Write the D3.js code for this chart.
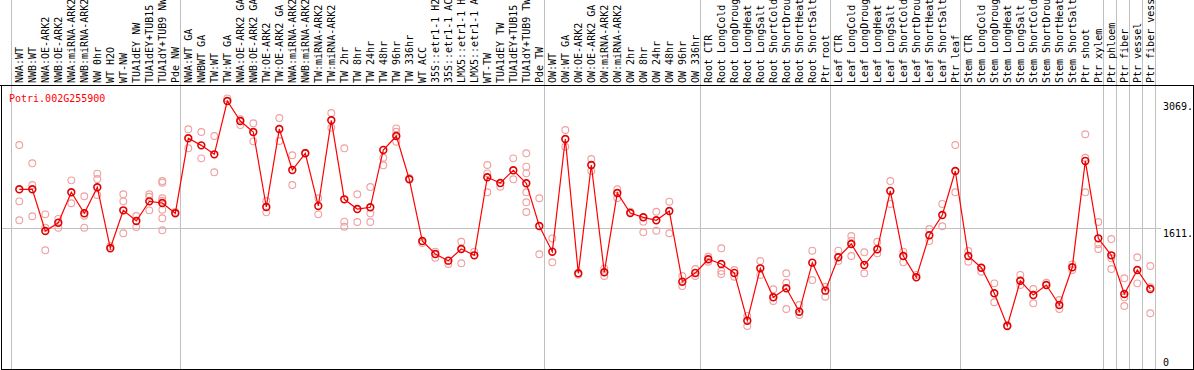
<!DOCTYPE html>
<html>
<head>
<meta charset="utf-8">
<script src="https://cdn.jsdelivr.net/npm/d3@7"></script>
<style>
body { margin: 0; background: #fff; }
svg { display: block; }
text { font-family: "DejaVu Sans Mono", monospace; font-size: 10px; }
</style>
</head>
<body>
<div id="chart"></div>
<script>
const geneId = "Potri.002G255900";

const samples = [
    "NWA:WT", "NWB:WT", "NWA:OE-ARK2", "NWB:OE-ARK2", "NWA:miRNA-ARK2", "NWB:miRNA-ARK2", "NW 0hr", "WT H2O", "WT-NW",
    "TUA1dEY NW", "TUA1dEY+TUB15 NW", "TUA1dY+TUB9 NW", "Pde NW",
    "NWA:WT GA", "NWBWT GA", "TW:WT", "TW:WT GA", "NWA:OE-ARK2 GA", "NWB:OE-ARK2 GA", "TW:OE-ARK2", "TW:OE-ARK2 GA",
    "NWA:miRNA-ARK2 GA", "NWB:miRNA-ARK2 GA", "TW:miRNA-ARK2", "TW:miRNA-ARK2 GA", "TW 2hr", "TW 8hr", "TW 24hr", "TW 48hr",
    "TW 96hr", "TW 336hr", "WT ACC", "35S::etr1-1 H2O", "35S::etr1-1 ACC", "LMX5::etr1-1 H2O", "LMX5::etr1-1 ACC", "WT-TW",
    "TUA1dEY TW", "TUA1dEY+TUB15 TW", "TUA1dY+TUB9 TW", "Pde TW",
    "OW:WT", "OW:WT GA", "OW:OE-ARK2", "OW:OE-ARK2 GA", "OW:miRNA-ARK2", "OW:miRNA-ARK2 GA", "OW 2hr", "OW 8hr", "OW 24hr",
    "OW 48hr", "OW 96hr", "OW 336hr",
    "Root CTR", "Root LongCold", "Root LongDrought", "Root LongHeat", "Root LongSalt", "Root ShortCold", "Root ShortDrought",
    "Root ShortHeat", "Root ShortSalt", "Ptr root",
    "Leaf CTR", "Leaf LongCold", "Leaf LongDrought", "Leaf LongHeat", "Leaf LongSalt", "Leaf ShortCold", "Leaf ShortDrought",
    "Leaf ShortHeat", "Leaf ShortSalt", "Ptr leaf",
    "Stem CTR", "Stem LongCold", "Stem LongDrought", "Stem LongHeat", "Stem LongSalt", "Stem ShortCold", "Stem ShortDrought",
    "Stem ShortHeat", "Stem ShortSalt", "Ptr shoot", "Ptr xylem",
    "Ptr phloem", "Ptr fiber", "Ptr vessel", "Ptr fiber vessel"
];

// mean expression per sample
const means = [
    2060, 2060, 1582, 1677, 2026, 1785, 2083, 1384, 1819, 1697, 1922, 1903, 1785,
    2645, 2564, 2461, 3072, 2843, 2717, 1857, 2751, 2281, 2473, 1869, 2851, 1945, 1834, 1854, 2511, 2671, 2175,
    1467, 1318, 1242, 1376, 1303, 2198, 2132, 2278, 2129, 1639,
    1345, 2637, 1097, 2339, 1109, 2018, 1788, 1739, 1705, 1811, 1001, 1101,
    1258, 1204, 1101, 554, 1154, 822, 925, 657, 1219, 898,
    1281, 1433, 1192, 1372, 2041, 1295, 1051, 1533, 1765, 2270,
    1295, 1161, 868, 493, 1012, 848, 963, 734, 1166, 2385, 1498,
    1303, 860, 1135, 917
];

// individual replicates per sample
const replicates = [
    [2568, 1922, 1705], [2358, 2109, 1751], [1773, 1620, 1361], [1720, 1620], [2163, 1900], [1980, 1757, 1620],
    [2239, 2178, 1995], [1407], [2003, 1922, 1556], [1754, 1628], [2003, 1975, 1819],
    [2155, 2136, 1957, 1929, 1826, 1728, 1590], [1800],
    [2748, 2530], [2717, 2415], [2671, 2255], [3103], [2863, 2797], [2817, 2610], [1926, 1796], [2877, 2614],
    [2450, 2109], [2480], [1957, 1773], [2935, 2766], [2530, 1689, 1631], [2003, 1685], [2086, 1785, 1685],
    [2422, 2335], [2759, 2720, 2606], [2190], [1444], [1345, 1276], [1204], [1459, 1212], [1345],
    [2339, 2243, 2026], [2090], [2415, 2175], [2473, 2319, 2243, 2026, 1911, 1800], [1957, 1315],
    [1498, 1223], [2740, 2548], [1080], [2407, 2270], [1154, 1066], [2060, 1960], [1803], [1689, 1567],
    [1803, 1585], [1918, 1556], [1066, 951], [1146, 1066],
    [1287, 1230], [1384, 1123, 1089], [1135, 1058], [608, 493], [1238, 1078], [914, 780], [1097, 989, 688],
    [734, 619], [1356, 1020], [943, 829],
    [1356, 1238], [1525, 1471, 1295], [1338, 1097], [1459, 1326], [2155, 1892], [1345, 1223], [1078],
    [1605, 1467], [1892, 1636], [2568, 2026],
    [1353, 1230], [1115], [982, 765], [504], [1078, 963], [917, 753], [989], [791, 688], [1200, 1135],
    [2691, 2422, 2026], [1685, 1430, 1376],
    [1490, 1269, 1146], [1040, 822, 722], [1281, 982], [1181, 937, 639]
];

// sample index where each group starts (last entry closes the final group)
const groupStarts = [0, 13, 41, 53, 63, 73, 84, 85, 86, 87, 88];

const yTicks = [3069, 1611, 0];
const gridValue = 1611;

const width = 1194, height = 370;
const plotTop = 85, plotBottom = 369, plotLeft = 1, plotRight = 1193;

const svg = d3.select("#chart").append("svg")
    .attr("width", width)
    .attr("height", height);

const xScale = d3.scaleLinear()
    .domain([0, samples.length - 1])
    .range([19.3, 1150.3]);

const yScale = d3.scaleLinear()
    .domain([0, 3069])
    .range([plotBottom, 101.3]);

const colW = xScale(1) - xScale(0);

// vertical group separators, running through label area too
svg.append("g")
    .selectAll("line")
    .data(groupStarts)
    .join("line")
        .attr("x1", d => Math.floor(xScale(d) - 7.8) + 0.5)
        .attr("x2", d => Math.floor(xScale(d) - 7.8) + 0.5)
        .attr("y1", 0)
        .attr("y2", plotBottom)
        .attr("stroke", "#c0c0c0")
        .attr("stroke-width", 1)
        .attr("shape-rendering", "crispEdges");

// horizontal reference line
svg.append("line")
    .attr("x1", plotLeft)
    .attr("x2", 1161)
    .attr("y1", Math.round(yScale(gridValue)) + 0.5)
    .attr("y2", Math.round(yScale(gridValue)) + 0.5)
    .attr("stroke", "#c0c0c0")
    .attr("shape-rendering", "crispEdges");

// frame
svg.append("line")
    .attr("x1", 0).attr("x2", width)
    .attr("y1", plotTop + 0.5).attr("y2", plotTop + 0.5)
    .attr("stroke", "#000").attr("shape-rendering", "crispEdges");
svg.append("rect")
    .attr("x", plotLeft + 0.5)
    .attr("y", plotTop + 0.5)
    .attr("width", plotRight - plotLeft)
    .attr("height", plotBottom - plotTop)
    .attr("fill", "none")
    .attr("stroke", "#000")
    .attr("shape-rendering", "crispEdges");

// rotated sample labels
svg.append("g")
    .selectAll("text")
    .data(samples)
    .join("text")
        .attr("transform", (d, i) => `translate(${xScale(i) + 3.7}, 83) rotate(-90)`)
        .attr("fill", "#000")
        .text(d => d);

// y labels on the right
svg.append("g")
    .selectAll("text")
    .data(yTicks)
    .join("text")
        .attr("x", 1163)
        .attr("y", d => Math.min(yScale(d) + 8.5, 365.5))
        .attr("fill", "#000")
        .text(d => d === 0 ? "0" : d + ".");

// gene id
svg.append("text")
    .attr("x", 9)
    .attr("y", 101.5)
    .attr("fill", "#ff0000")
    .text(geneId);

// replicate points
const repPoints = replicates.flatMap((vals, i) => vals.map(v => ({ i, v })));
svg.append("g")
    .selectAll("circle")
    .data(repPoints)
    .join("circle")
        .attr("cx", d => xScale(d.i))
        .attr("cy", d => yScale(d.v))
        .attr("r", 3.4)
        .attr("fill", "none")
        .attr("stroke", "#f0a0a0")
        .attr("stroke-width", 1.1);

// mean line
const lineGenerator = d3.line()
    .x((d, i) => xScale(i))
    .y(d => yScale(d));

svg.append("path")
    .attr("d", lineGenerator(means))
    .attr("fill", "none")
    .attr("stroke", "#ff0000")
    .attr("stroke-width", 1.2);

svg.append("g")
    .selectAll("circle")
    .data(means)
    .join("circle")
        .attr("cx", (d, i) => xScale(i))
        .attr("cy", d => yScale(d))
        .attr("r", 3.4)
        .attr("fill", "none")
        .attr("stroke", "#e00000")
        .attr("stroke-width", 1.6);
</script>
</body>
</html>
